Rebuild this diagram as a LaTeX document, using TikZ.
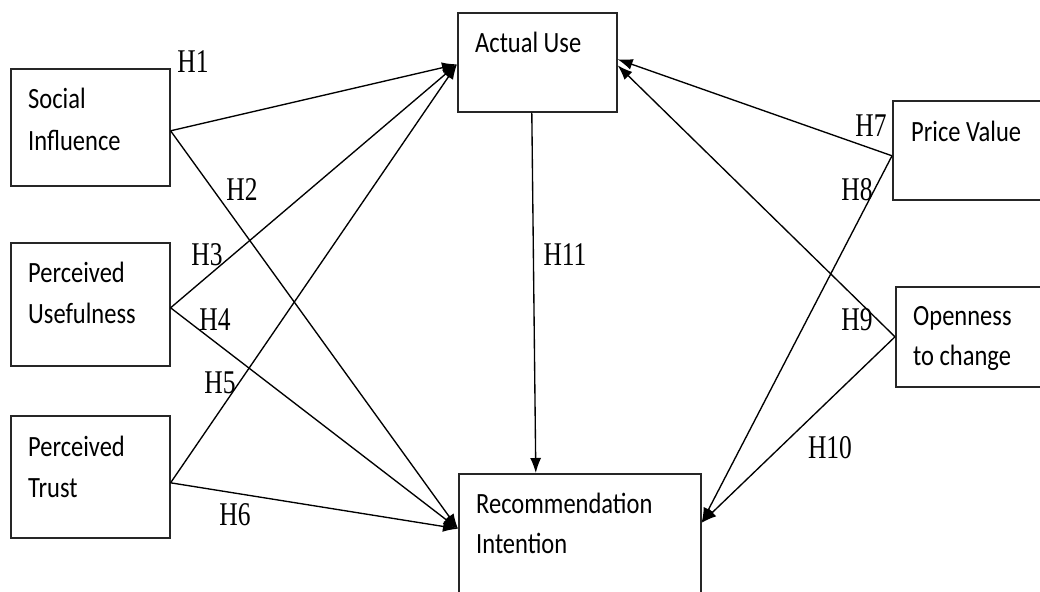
\documentclass[tikz,border=0pt]{standalone}
\usepackage{fontspec}
\usepackage{graphicx}
\setmainfont{Carlito}
\newfontfamily\lblfont{Liberation Serif}
\usetikzlibrary{arrows.meta}
\newcommand{\boxtxt}[1]{\scalebox{1}[1.2]{#1}}
\newcommand{\hyptxt}[1]{\scalebox{1}[1.3]{#1}}
\begin{document}
\begin{tikzpicture}[x=1pt,y=-1pt,
  box/.style={draw=black!85, line width=1.6pt, inner sep=0pt, anchor=north west},
  lab/.style={font=\fontsize{24.5}{29}\selectfont, anchor=base west, inner sep=0pt},
  hyp/.style={font=\lblfont\fontsize{25.5}{30}\selectfont, inner sep=0pt},
  link/.style={line width=1.35pt, -{Latex[length=15pt,width=11pt]}},
]
\useasboundingbox (0,0) rectangle (1040,591);
\fill[white] (0,0) rectangle (1040,591);

% boxes
\node[box, minimum width=159pt, minimum height=117pt] (si) at (10,68) {};
\node[box, minimum width=159pt, minimum height=123pt] (pu) at (10,242) {};
\node[box, minimum width=159pt, minimum height=122pt] (pt) at (10,415) {};
\node[box, minimum width=159pt, minimum height=99pt] (au) at (457,12) {};
\node[box, minimum width=242pt, minimum height=127pt] (ri) at (458,473) {};
\node[box, minimum width=160pt, minimum height=99pt] (pv) at (892,100) {};
\node[box, minimum width=160pt, minimum height=100pt] (op) at (895,286) {};

% box texts
\node[lab] (siA) at (28,109) {\boxtxt{Social}};
\node[lab] (siB) at (28,150) {\boxtxt{Influence}};
\node[lab] (puA) at (28,282) {\boxtxt{Perceived}};
\node[lab] (puB) at (28,323) {\boxtxt{Usefulness}};
\node[lab] (ptA) at (28,456) {\boxtxt{Perceived}};
\node[lab] (ptB) at (28,497) {\boxtxt{Trust}};
\node[lab] (auA) at (475,53) {\boxtxt{Actual Use}};
\node[lab] (riA) at (476,513) {\boxtxt{Recommendation}};
\node[lab] (riB) at (476,553) {\boxtxt{Intention}};
\node[lab] (pvA) at (911,141) {\boxtxt{Price Value}};
\node[lab] (opA) at (913,325) {\boxtxt{Openness}};
\node[lab] (opB) at (913,365) {\boxtxt{to change}};

% connectors
\draw[link] ([yshift=-3.5pt]si.east) -- ([yshift=-2pt]au.west);
\draw[link] ([yshift=-3.5pt]pu.east) -- ([yshift=-2pt]au.west);
\draw[link] ([yshift=-6pt]pt.east) -- ([yshift=-2pt]au.west);
\draw[link] ([yshift=-3.5pt]si.east) -- ([yshift=8.5pt]ri.west);
\draw[link] ([yshift=-3.5pt]pu.east) -- ([yshift=8.5pt]ri.west);
\draw[link] ([yshift=-6pt]pt.east) -- ([yshift=8.5pt]ri.west);
\draw[link] ([yshift=-5.5pt]pv.west) -- ([yshift=3pt]au.east);
\draw[link] (op.west) -- ([yshift=-3pt]au.east);
\draw[link] ([yshift=-5.5pt]pv.west) -- ([yshift=14.5pt]ri.east);
\draw[link] (op.west) -- ([yshift=14.5pt]ri.east);
\draw[link] ([xshift=-5.5pt]au.south) -- ([xshift=-44pt]ri.north);

% hypothesis labels
\node[hyp] (h1) at (193,62) {\hyptxt{H1}};
\node[hyp] (h2) at (242,190) {\hyptxt{H2}};
\node[hyp] (h3) at (207,255) {\hyptxt{H3}};
\node[hyp] (h4) at (215,320) {\hyptxt{H4}};
\node[hyp] (h5) at (220,383) {\hyptxt{H5}};
\node[hyp] (h6) at (235,515) {\hyptxt{H6}};
\node[hyp] (h7) at (871,126) {\hyptxt{H7}};
\node[hyp] (h8) at (857,190) {\hyptxt{H8}};
\node[hyp] (h9) at (857,320) {\hyptxt{H9}};
\node[hyp] (h10) at (830,448) {\hyptxt{H10}};
\node[hyp] (h11) at (565,255) {\hyptxt{H11}};
\end{tikzpicture}
\end{document}
